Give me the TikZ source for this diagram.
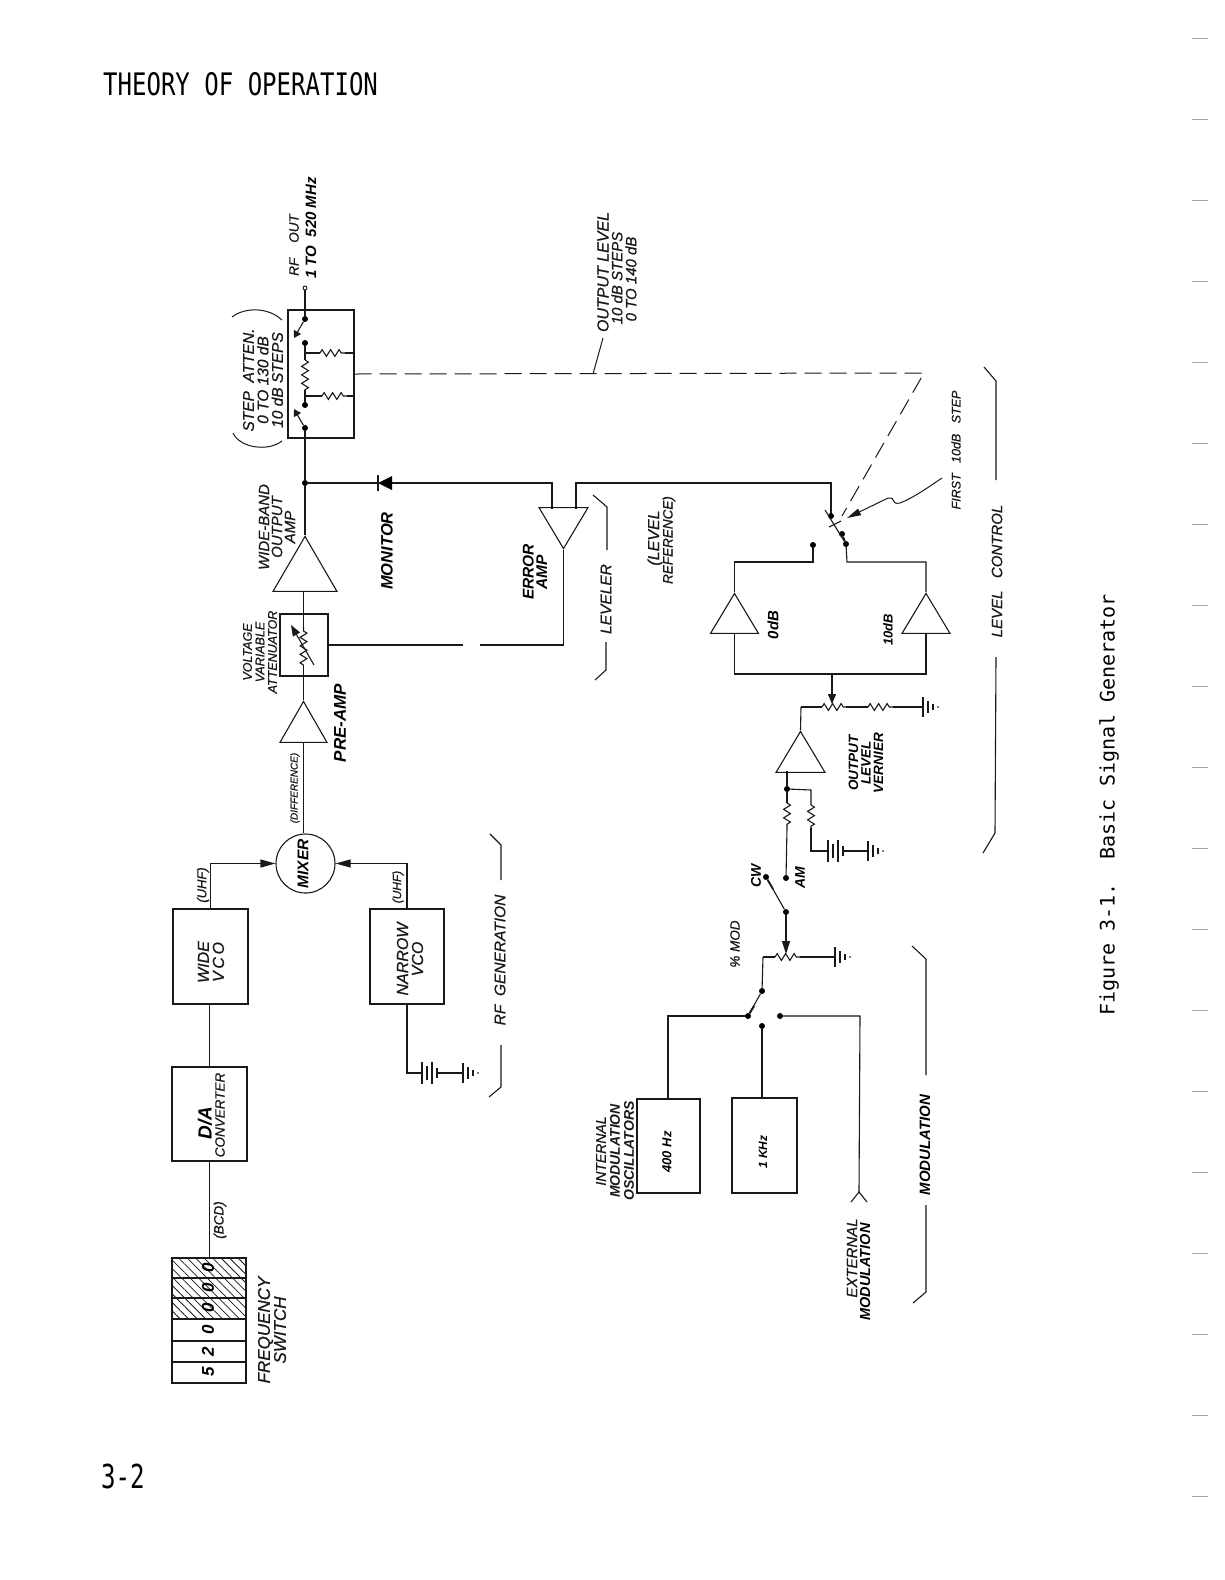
\documentclass[tikz,border=0pt]{standalone}
\usepackage{fontspec}
\setsansfont{Liberation Sans}[ItalicFeatures={FakeBold=0.8}]
\newfontfamily\typeface{DejaVu Sans Mono}
\usetikzlibrary{shapes.geometric,arrows.meta,decorations.pathmorphing,patterns.meta}
\tikzset{
  wire/.style={line width=1.1pt,black!90},
  box/.style={draw,line width=1.1pt,black!90,rectangle,inner sep=0pt,align=center},
  amp/.style={draw,line width=1.1pt,black!90,isosceles triangle,isosceles triangle stretches,inner sep=0pt},
  dot/.style={circle,fill=black,inner sep=0pt,minimum size=6pt},
  res/.style={wire,decorate,decoration={zigzag,amplitude=3.4pt,segment length=8.5pt}},
  lbl/.style={rotate=90,inner sep=0pt,align=center,black!90,font=\sffamily\itshape\fontsize{#1}{#1}\selectfont},
  lblb/.style={rotate=90,inner sep=0pt,align=center,black,font=\sffamily\itshape\bfseries\fontsize{#1}{#1}\selectfont},
  head/.style={-{Triangle[length=#1,width=8pt]}},
  leader/.style={line width=1pt,black!90},
  gnd/.pic={
    \draw[wire] (0,-10) -- (0,10);
    \draw[wire] (5,-6) -- (5,6);
    \draw[wire] (10,-3) -- (10,3);
    \fill (15,0) circle (0.8pt);
  },
  batt/.pic={
    \draw[wire] (0,-11) -- (0,11);
    \draw[wire] (5,-7) -- (5,7);
    \draw[wire] (10,-11) -- (10,11);
    \draw[wire,line width=1.6pt] (15,-5) -- (15,5);
  },
}
\begin{document}
\begin{tikzpicture}[x=1pt,y=-1pt]
    \useasboundingbox (0,0) rectangle (1224,1580);
    % page text
    \node[anchor=west,inner sep=0pt,xscale=0.775,font=\typeface\fontsize{31}{31}\selectfont] (title) at (103,84) {THEORY OF OPERATION};
    \node[anchor=west,inner sep=0pt,xscale=0.73,font=\typeface\fontsize{33}{33}\selectfont] (pagenum) at (101,1476) {3-2};
    \node[rotate=90,inner sep=0pt,font=\typeface\fontsize{20}{20}\selectfont] (caption) at (1109,805) {Figure 3-1.\ \ Basic Signal Generator};
    \foreach \i in {0,...,18} {
      \draw[black!35,line width=0.7pt] (1192,38+81*\i) -- (1208,38+81*\i);
    }

    % frequency switch
    \node[box,minimum width=74pt,minimum height=125pt] (fswitch) at (209,1320.5) {};
    \fill[pattern={Lines[angle=-45,distance=6pt,line width=0.8pt]},pattern color=black!90] (172.5,1258.5) rectangle (245.5,1319);
    \foreach \y in {1278,1298,1319,1341,1362} {
      \draw[wire,line width=1.4pt] (172,\y) -- (246,\y);
    }
    \foreach \y/\d in {1268/0,1288/0,1308/0,1330/0,1352/2,1372/5} {
      \node[lblb=17] (dig\y) at (208,\y) {\d};
    }
    \node[lbl=17] (fslabel) at (272,1330) {FREQUENCY\\[-1pt]SWITCH};

    % RF generation chain
    \node[box,minimum width=75pt,minimum height=94pt] (dac) at (209.5,1114) {};
    \node[lblb=19] (dactext) at (205,1123) {D/A};
    \node[lbl=13.5] (convtext) at (220,1115) {CONVERTER};
    \node[lbl=13.5] (bcd) at (220,1220) {(BCD)};
    \node[box,minimum width=75pt,minimum height=95pt] (wvco) at (210.5,956.5) {};
    \node[lbl=16] (wvcotext) at (211,962) {WIDE\\[-1pt]V\,C\,O};
    \node[box,minimum width=74pt,minimum height=95pt] (nvco) at (407,956.5) {};
    \node[lbl=16] (nvcotext) at (410,959) {NARROW\\[-1pt]VCO};
    \node[circle,draw,line width=1.1pt,black!90,inner sep=0pt,minimum size=59pt] (mixer) at (305.5,863.5) {};
    \node[lblb=15.5] (mixertext) at (303,864) {MIXER};
    \node[lbl=13] (uhfa) at (203,885) {(UHF)};
    \node[lbl=12] (uhfb) at (398,887) {(UHF)};
    \node[lbl=10] (diff) at (295,788) {(DIFFERENCE)};
    \draw[wire] (dac.south) -- (dac.south |- fswitch.north);
    \draw[wire] (dac.north) -- (dac.north |- wvco.south);
    \draw[wire,head=15pt] (wvco.north) |- (mixer.west);
    \draw[wire,head=15pt] (nvco.north) |- (mixer.east);
    \coordinate (nvcojog) at (407,1073);
    \coordinate (battA) at (422,1073);
    \coordinate (battAend) at (437,1073);
    \coordinate (gndA) at (463,1073);
    \draw[wire] (nvco.south) -- (nvcojog) -- (battA);
    \pic at (battA) {batt};
    \draw[wire] (battAend) -- (gndA);
    \pic at (gndA) {gnd};

    % pre-amp, attenuator, output amp
    \node[amp,shape border rotate=90,minimum width=47pt,minimum height=41pt,anchor=apex] (preamp) at (303.5,700) {};
    \node[lblb=17] (pretext) at (340,723) {PRE-AMP};
    \node[box,minimum width=48pt,minimum height=62pt] (vva) at (304,645) {};
    \node[lbl=12.5] (vvatext) at (260,652) {VOLTAGE\\[0pt]VARIABLE\\[0pt]ATTENUATOR};
    \node[amp,shape border rotate=90,minimum width=64pt,minimum height=55pt,anchor=apex] (wbamp) at (305,535) {};
    \node[lbl=15] (wbtext) at (277,527) {WIDE-BAND\\[-2pt]OUTPUT\\[-2pt]AMP};
    \coordinate (vvatop) at (303.5,627);
    \coordinate (vvabot) at (303.5,665);
    \coordinate (arwA) at (314,665);
    \coordinate (arwB) at (291,625);
    \draw[wire] (preamp.lower side) -- (preamp.lower side |- mixer.north);
    \draw[wire] (preamp.apex) -- (vvabot);
    \draw[res] (vvabot) -- (vvatop);
    \draw[wire] (vvatop) -- (vvatop |- wbamp.lower side);
    \draw[wire,head=11pt] (arwA) -- (arwB);

    % step attenuator
    \node[box,minimum width=66pt,minimum height=128pt] (atten) at (321,374) {};
    \node[lbl=15.5] (stept) at (263,380) {STEP\ \ ATTEN.\\[-1pt]0 TO 130 dB\\[-1pt]10 dB STEPS};
    \draw[leader] (232,317) .. controls (245,307) and (268,307) .. (282,320);
    \draw[leader] (233,433) .. controls (240,448) and (268,452) .. (282,441);
    \node[circle,draw,inner sep=0pt,minimum size=4pt,line width=0.8pt] (rfout) at (305,288) {};
    \node[lbl=13.5] (rftext) at (294,245) {RF\ \ \ \ OUT};
    \node[lblb=15] (rfrange) at (311,228) {1 TO\ \ 520 MHz};
    \node[dot] (swa) at (305,319) {};
    \node[dot] (swb) at (305,343) {};
    \node[dot] (swc) at (305,405) {};
    \node[dot] (swd) at (305,428) {};
    \coordinate (blA) at (294,338);
    \coordinate (blB) at (294,409);
    \coordinate (resA) at (305,353);
    \coordinate (resB) at (305,360);
    \coordinate (resC) at (305,390);
    \coordinate (resD) at (305,396);
    \coordinate (haL) at (320,353);
    \coordinate (haR) at (345,353);
    \coordinate (hbL) at (322,396);
    \coordinate (hbR) at (347,396);
    \coordinate (haEnd) at (354,353);
    \coordinate (hbEnd) at (354,396);
    \coordinate (outjoin) at (305,483);
    \node[dot] (outdot) at (outjoin) {};
    \draw[wire] (rfout) -- (swa);
    \draw[wire,head=7pt] (swa) -- (blA);
    \draw[wire,head=7pt] (swd) -- (blB);
    \draw[wire] (swb) -- (resB);
    \draw[res] (resB) -- (resC);
    \draw[wire] (resC) -- (swc);
    \draw[wire] (resA) -- (haL);
    \draw[res] (haL) -- (haR);
    \draw[wire] (haR) -- (haEnd);
    \draw[wire] (resD) -- (hbL);
    \draw[res] (hbL) -- (hbR);
    \draw[wire] (hbR) -- (hbEnd);
    \draw[wire] (swd) -- (outdot) -- (wbamp.apex);

    % monitor and leveler
    \coordinate (dioK) at (378,483);
    \coordinate (dioA) at (392,483);
    \fill (dioK) -- (392,476) -- (392,490) -- cycle;
    \draw[wire] (378,475) -- (378,491);
    \node[lblb=16.5] (montext) at (387,551) {MONITOR};
    \node[amp,shape border rotate=270,minimum width=49pt,minimum height=41pt,anchor=apex] (erramp) at (563.5,550) {};
    \node[lblb=15.5] (errtext) at (535,572) {ERROR\\[-2pt]AMP};
    \coordinate (errL) at (552,483);
    \coordinate (errLb) at (552,509);
    \coordinate (errR) at (576,483);
    \coordinate (errRb) at (576,509);
    \coordinate (vvaout) at (vva.east);
    \coordinate (gapA) at (463,645);
    \coordinate (gapB) at (480,645);
    \coordinate (errin) at (563.5,645);
    \draw[wire] (outdot) -- (dioK);
    \draw[wire] (dioA) -- (errL) -- (errLb);
    \draw[wire] (errRb) -- (errR) -- (831,483) -- (831,516);
    \draw[wire] (vvaout) -- (gapA);
    \draw[wire] (gapB) -- (errin) -- (erramp.apex);
    \node[lbl=16] (refA) at (655,538) {(LEVEL};
    \node[lbl=13.5] (refB) at (669,540) {REFERENCE)};

    % output level
    \node[lbl=16] (outA) at (603,272) {OUTPUT LEVEL};
    \node[lbl=15] (outB) at (617,278) {10 dB STEPS};
    \node[lbl=15] (outC) at (631,279) {0 TO 140 dB};
    \coordinate (dashcorner) at (924,373);
    \coordinate (dashtick) at (593,374);
    \coordinate (tickend) at (603,338);
    \coordinate (swcross) at (842,516);
    \draw[leader,dash pattern=on 17pt off 8pt] (atten.east) -- (dashcorner) -- (swcross);
    \draw[leader] (dashtick) -- (tickend);

    % level switch
    \node[dot] (lva) at (831,516) {};
    \node[dot] (lvb) at (813,545) {};
    \node[dot] (lvc) at (846,544) {};
    \node[dot] (lvd) at (842,534) {};
    \draw[wire] (lvc) -- (825,510);
    \draw[wire] (829,527) -- (841,521);
    \draw[wire,line width=1.8pt] (lvc) -- (lvd);
    \node[amp,shape border rotate=90,minimum width=48pt,minimum height=40pt,anchor=apex] (ampA) at (734.5,592) {};
    \node[amp,shape border rotate=90,minimum width=48pt,minimum height=40pt,anchor=apex] (ampB) at (926,592) {};
    \node[lblb=15] (zerodb) at (773,625) {0dB};
    \node[lblb=13] (tendb) at (888,630) {10dB};
    \coordinate (jA) at (813,562);
    \coordinate (jB) at (734.5,562);
    \coordinate (jC) at (847,562);
    \coordinate (jD) at (926,562);
    \coordinate (sumL) at (734.5,674);
    \coordinate (sumR) at (926,674);
    \coordinate (sumM) at (832,674);
    \draw[wire] (lvb) -- (jA) -- (jB) -- (ampA.apex);
    \draw[wire] (lvc) -- (jC) -- (jD) -- (ampB.apex);
    \draw[wire] (ampA.lower side) -- (sumL) -- (sumR) -- (ampB.lower side);
    \node[lbl=12.5] (firsttext) at (956,450) {FIRST\ \ \ 10dB\ \ \ STEP};
    \draw[leader] (942,478) .. controls (930,486) and (915,497) .. (900,503) .. controls (890,505) and (897,497) .. (888,498);
    \draw[leader,-{Triangle[length=14pt,width=7pt]}] (888,498) -- (847,518);

    % vernier
    \coordinate (potL) at (801,707);
    \coordinate (potA) at (822,707);
    \coordinate (potB) at (846,707);
    \coordinate (potM) at (832,704);
    \coordinate (rAa) at (868,707);
    \coordinate (rAb) at (893,707);
    \coordinate (gndB) at (923,707);
    \draw[wire,head=10pt] (sumM) -- (potM);
    \draw[wire] (potL) -- (potA);
    \draw[res] (potA) -- (potB);
    \draw[wire] (potB) -- (rAa);
    \draw[res] (rAa) -- (rAb);
    \draw[wire] (rAb) -- (gndB);
    \pic at (gndB) {gnd};
    \node[amp,shape border rotate=90,minimum width=49pt,minimum height=41pt,anchor=apex] (ampC) at (800.5,730) {};
    \node[lblb=13.5] (verntext) at (866,763) {OUTPUT\\[-1pt]LEVEL\\[-1pt]VERNIER};
    \draw[wire] (potL) -- (ampC.apex);
    \coordinate (ampCin) at (787,771);
    \node[dot] (ampCj) at (787,789) {};
    \coordinate (rBa) at (787,803);
    \coordinate (rBb) at (787,828);
    \node[dot] (amdot) at (786,878) {};
    \coordinate (brJ) at (811,790);
    \coordinate (rCa) at (811,805);
    \coordinate (rCb) at (811,828);
    \coordinate (brK) at (811,851);
    \coordinate (battB) at (828,851);
    \coordinate (battBend) at (843,851);
    \coordinate (gndC) at (868,851);
    \draw[wire] (ampCin) -- (ampCj) -- (rBa);
    \draw[res] (rBa) -- (rBb);
    \draw[wire] (rBb) -- (amdot);
    \draw[wire] (ampCj) -- (brJ) -- (rCa);
    \draw[res] (rCa) -- (rCb);
    \draw[wire] (rCb) -- (brK) -- (battB);
    \pic at (battB) {batt};
    \draw[wire] (battBend) -- (gndC);
    \pic at (gndC) {gnd};
    \node[lblb=14] (cwtext) at (756,876) {CW};
    \node[lblb=14] (amtext) at (800,878) {AM};

    % modulation
    \node[dot] (cwdot) at (766,877) {};
    \node[dot] (modtop) at (786,912) {};
    \coordinate (modpot) at (786,954);
    \coordinate (mpL) at (763,957);
    \coordinate (mpA) at (775,957);
    \coordinate (mpB) at (800,957);
    \coordinate (gndD) at (835,957);
    \draw[wire] (cwdot) -- (modtop);
    \draw[wire,line width=1.8pt] (cwdot) -- (773,889);
    \draw[wire,head=13pt] (modtop) -- (modpot);
    \draw[wire] (mpL) -- (mpA);
    \draw[res] (mpA) -- (mpB);
    \draw[wire] (mpB) -- (gndD);
    \pic at (gndD) {gnd};
    \node[lbl=13.5] (modpct) at (735,944) {\%\ MOD};
    \node[dot] (mswa) at (762,991) {};
    \node[dot] (mswb) at (748,1016) {};
    \node[dot] (mswc) at (762,1026) {};
    \node[dot] (mswd) at (780,1016) {};
    \draw[wire] (mpL) -- (mswa);
    \draw[wire] (mswa) -- (mswb);
    \draw[wire,line width=2pt] (mswb) -- (754,1006);
    \node[box,minimum width=63pt,minimum height=94pt] (osca) at (668.5,1146) {};
    \node[box,minimum width=65pt,minimum height=95pt] (oscb) at (764.5,1145.5) {};
    \node[lblb=13] (oscatext) at (667,1152) {400 Hz};
    \node[lblb=12] (oscbtext) at (763,1152) {1 KHz};
    \node[lbl=14] (osclabel) at (615,1151) {INTERNAL\\[0pt]\bfseries MODULATION\\[0pt]\bfseries OSCILLATORS};
    \coordinate (oscaTop) at (668,1099);
    \coordinate (oscaJog) at (668,1016);
    \coordinate (oscbTop) at (762,1098);
    \coordinate (extA) at (860,1016);
    \coordinate (extB) at (859,1192);
    \coordinate (extL) at (851,1202);
    \coordinate (extR) at (867,1202);
    \draw[wire] (oscaTop) -- (oscaJog) -- (mswb);
    \draw[wire] (oscbTop) -- (mswc);
    \draw[wire] (mswd) -- (extA) -- (extB);
    \draw[wire] (extL) -- (extB) -- (extR);
    \node[lbl=15] (extAtext) at (852,1258) {EXTERNAL};
    \node[lblb=14.5] (extBtext) at (865,1272) {MODULATION};

    % section brackets
    \draw[wire] (490,834) -- (501,845) -- (501,880);
    \draw[wire] (501,1045) -- (501,1087) -- (489,1097);
    \node[lbl=15.5] (brA) at (500,960) {RF\ \ GENERATION};
    \draw[wire] (593,495) -- (607,507) -- (607,550);
    \draw[wire] (606,642) -- (606,670) -- (595,680);
    \node[lbl=15.5] (brB) at (606,599) {LEVELER};
    \draw[wire] (984,367) -- (996,381) -- (996,480);
    \draw[wire] (996,657) -- (995,833) -- (983,853);
    \node[lbl=15] (brC) at (997,571) {LEVEL\ \ \ CONTROL};
    \draw[wire] (912,946) -- (926,959) -- (926,1075);
    \draw[wire] (926,1205) -- (926,1292) -- (913,1303);
    \node[lblb=15] (brD) at (925,1145) {MODULATION};
  \end{tikzpicture}
\end{document}
